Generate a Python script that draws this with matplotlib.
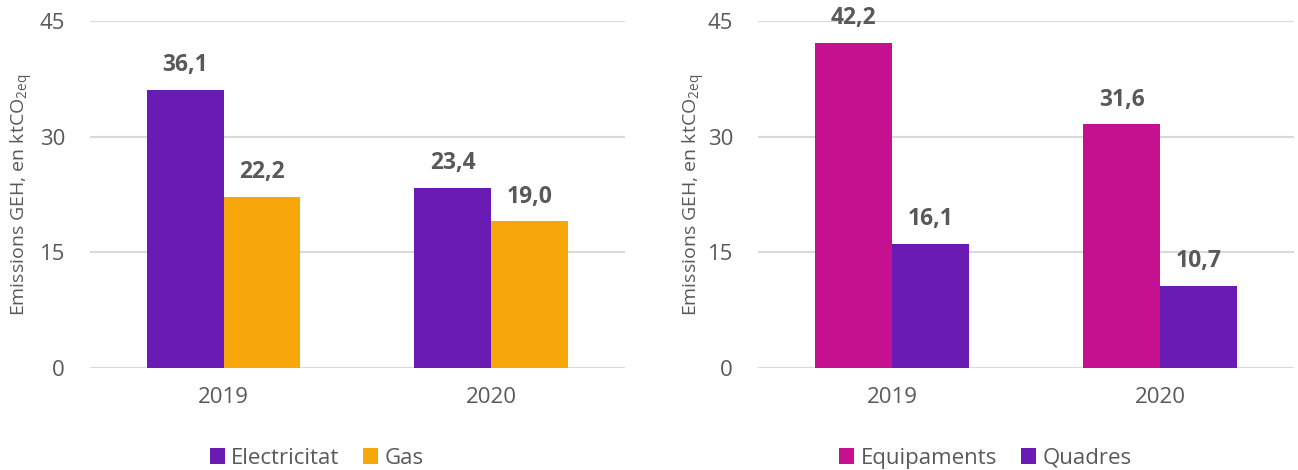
import matplotlib
matplotlib.use("Agg")
import matplotlib.pyplot as plt
import numpy as np

plt.rcParams["font.family"] = ["Open Sans", "DejaVu Sans"]

# --------------------------
# Dades
# --------------------------
years = ["2019", "2020"]

font_labels = ["Electricitat", "Gas"]
electricitat = [36.1, 23.4]
gas = [22.2, 19.0]

us_labels = ["Equipaments", "Quadres"]
equipaments = [42.2, 31.6]
quadres = [16.1, 10.7]

yticks = [0, 15, 30, 45]

PURPLE = "#6A1BB4"
ORANGE = "#F8A70A"
MAGENTA = "#C5118F"
TEXT = "#595959"
GRID = "#D9D9D9"

fig = plt.figure(figsize=(12.98, 4.70), dpi=100)
ax1 = fig.add_axes([0.0693, 0.217, 0.412, 0.7383])
ax2 = fig.add_axes([0.584, 0.217, 0.413, 0.7383])

WIDTH = 0.287


def draw_panel(ax, series_a, series_b, names, colors, label_x):
    x = np.arange(len(years))
    bars_a = ax.bar(x - WIDTH / 2, series_a, WIDTH, color=colors[0], label=names[0], zorder=3)
    bars_b = ax.bar(x + WIDTH / 2, series_b, WIDTH, color=colors[1], label=names[1], zorder=3)

    # etiquetes de valor amb coma decimal
    for bars, vals in ((bars_a, series_a), (bars_b, series_b)):
        for b, v in zip(bars, vals):
            ax.annotate(f"{v:.1f}".replace(".", ","),
                        (b.get_x() + b.get_width() / 2, v),
                        xytext=(0, 9), textcoords="offset points",
                        ha="center", va="bottom", fontsize=16.5, fontweight="bold",
                        color=TEXT, annotation_clip=False)

    ax.set_xlim(-0.5, len(years) - 0.5)
    ax.set_ylim(0, 45)
    ax.set_yticks(yticks)
    ax.set_xticks(x)
    ax.set_xticklabels(years)
    ax.tick_params(axis="both", length=0, labelsize=16, colors=TEXT)
    ax.tick_params(axis="y", pad=18)
    ax.tick_params(axis="x", pad=14)
    ax.yaxis.grid(True, color=GRID, linewidth=1.5, zorder=0)
    for s in ax.spines.values():
        s.set_visible(False)
    ax.set_ylabel(r"Emissions GEH, en ktCO$_\mathregular{2eq}$", fontsize=14,
                  color=TEXT, va="center")
    ax.yaxis.set_label_coords(label_x, 0.5)
    leg = ax.legend(loc="center", bbox_to_anchor=(0.424, -0.26), ncol=2,
                    frameon=False, fontsize=16, handlelength=0.68, handleheight=0.68,
                    handletextpad=0.3, columnspacing=1.05)
    for t in leg.get_texts():
        t.set_color(TEXT)


draw_panel(ax1, electricitat, gas, font_labels, (PURPLE, ORANGE), -0.128)
draw_panel(ax2, equipaments, quadres, us_labels, (MAGENTA, PURPLE), -0.12)

fig.savefig("out.png", dpi=100)
